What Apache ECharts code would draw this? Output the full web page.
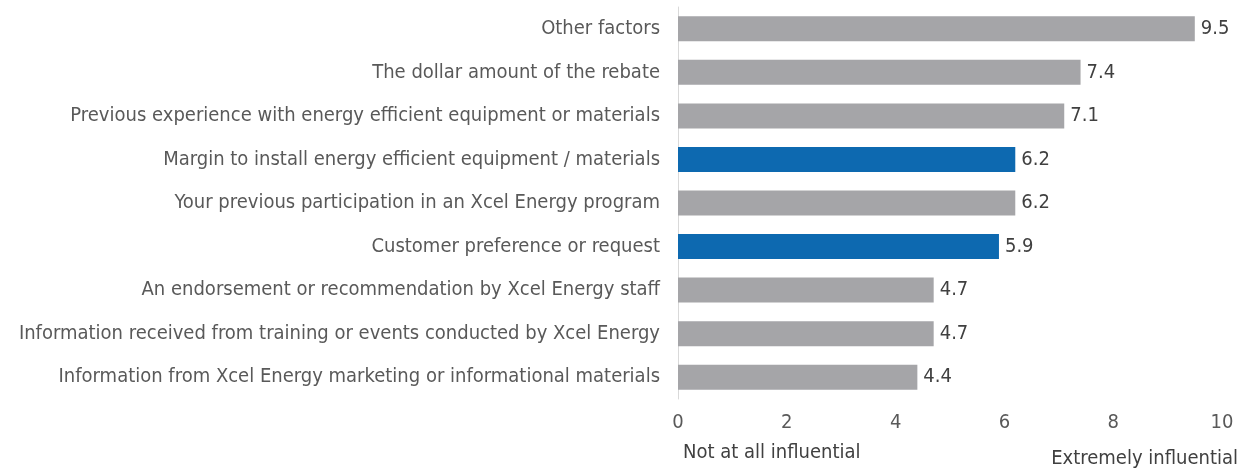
<!DOCTYPE html>
<html>
<head>
<meta charset="utf-8">
<script src="https://cdn.jsdelivr.net/npm/echarts@6/dist/echarts.min.js"></script>
<style>
  html, body { margin: 0; padding: 0; background: #fff; }
  #chart { width: 1247px; height: 470px; }
</style>
</head>
<body>
<div id="chart"></div>
<script>
// categories top to bottom
var categories = [
  'Other factors',
  'The dollar amount of the rebate',
  'Previous experience with energy efficient equipment or materials',
  'Margin to install energy efficient equipment / materials',
  'Your previous participation in an Xcel Energy program',
  'Customer preference or request',
  'An endorsement or recommendation by Xcel Energy staff',
  'Information received from training or events conducted by Xcel Energy',
  'Information from Xcel Energy marketing or informational materials'
];
var scores = [9.5, 7.4, 7.1, 6.2, 6.2, 5.9, 4.7, 4.7, 4.4];
var highlighted = [
  'Margin to install energy efficient equipment / materials',
  'Customer preference or request'
];
var xTicks = [0, 2, 4, 6, 8, 10];
var scaleEnds = ['Not at all influential', 'Extremely influential'];

var font = '"DejaVu Sans Condensed", "DejaVu Sans", sans-serif';

var chart = echarts.init(document.getElementById('chart'));

var barData = scores.map(function (v, i) {
  return {
    value: v,
    itemStyle: { color: highlighted.indexOf(categories[i]) >= 0 ? '#0d69b0' : '#a5a5a8' }
  };
});

chart.setOption({
  animation: false,
  grid: { left: 678, right: 25, top: 7, bottom: 71, containLabel: false },
  xAxis: {
    type: 'value',
    min: xTicks[0],
    max: xTicks[xTicks.length - 1],
    interval: 2,
    splitLine: { show: false },
    axisLine: { show: false },
    axisTick: { show: false },
    axisLabel: { color: '#595959', fontFamily: font, fontSize: 20, margin: 14 }
  },
  yAxis: {
    type: 'category',
    data: categories,
    inverse: true,
    axisLine: { show: true, lineStyle: { color: '#d9d9d9', width: 1 } },
    axisTick: { show: false },
    axisLabel: { color: '#595959', fontFamily: font, fontSize: 20, margin: 18 }
  },
  series: [{
    type: 'bar',
    data: barData,
    barWidth: 25,
    label: {
      show: true,
      position: 'right',
      distance: 6,
      color: '#404040',
      fontFamily: font,
      fontSize: 20,
      formatter: function (p) { return p.value.toFixed(1); }
    }
  }],
  graphic: [
    {
      type: 'text', left: 683, top: 443,
      style: { text: scaleEnds[0], fill: '#404040', font: '20px ' + font }
    },
    {
      type: 'text', right: 9, top: 449,
      style: { text: scaleEnds[1], fill: '#404040', font: '20px ' + font }
    }
  ]
});
</script>
</body>
</html>
